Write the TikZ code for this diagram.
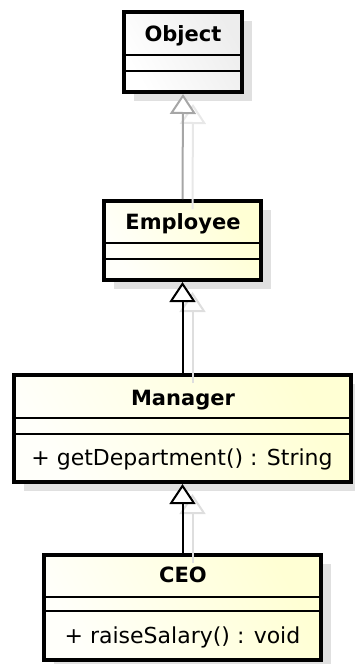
\documentclass[tikz,border=0pt]{standalone}
\usepackage{fontspec}
\setmainfont{DejaVu Sans}
\usetikzlibrary{arrows.meta,shadows}

\begin{document}
\begin{tikzpicture}[x=1pt,y=-1pt,
  classbox/.style={draw=black, line width=4pt, rectangle, inner sep=0pt,
    drop shadow={shadow xshift=10pt, shadow yshift=-9pt, fill=black!12, opacity=1}},
  yellowbox/.style={classbox, left color=yellow!2, right color=yellow!17, shading angle=120},
  graybox/.style={classbox, left color=white, right color=black!7, shading angle=120},
  divider/.style={line width=1.5pt},
  title/.style={font=\bfseries\fontsize{21}{21}\selectfont, anchor=base, inner sep=0pt},
  member/.style={font=\fontsize{22}{22}\selectfont, anchor=base, inner sep=0pt},
  gen/.style={line width=2pt, -{Triangle[length=20pt, width=26pt, fill=white]}},
  genshadow/.style={line width=2pt, -{Triangle[open, length=20pt, width=26pt]},
    transform canvas={xshift=10pt, yshift=-10pt}},
]
\useasboundingbox (0,0) rectangle (355,664);

% class boxes
\node[graybox,   minimum width=118pt, minimum height=80pt]  (obj) at (183,52)    {};
\node[yellowbox, minimum width=157pt, minimum height=79pt]  (emp) at (182.5,240.5) {};
\node[yellowbox, minimum width=337pt, minimum height=107pt] (mgr) at (182.5,428.5) {};
\node[yellowbox, minimum width=277pt, minimum height=105pt] (ceo) at (182.5,607.5) {};

% compartment separators
\draw[divider] (obj.west |- 0,55)  -- (obj.east |- 0,55);
\draw[divider] (obj.west |- 0,71)  -- (obj.east |- 0,71);
\draw[divider] (emp.west |- 0,243) -- (emp.east |- 0,243);
\draw[divider] (emp.west |- 0,259) -- (emp.east |- 0,259);
\draw[divider] (mgr.west |- 0,418) -- (mgr.east |- 0,418);
\draw[divider] (mgr.west |- 0,434) -- (mgr.east |- 0,434);
\draw[divider] (ceo.west |- 0,597) -- (ceo.east |- 0,597);
\draw[divider] (ceo.west |- 0,611) -- (ceo.east |- 0,611);

% class names and operations
\node[title]  (objT) at (183,41.5)  {Object};
\node[title]  (empT) at (183,229)   {Employee};
\node[title]  (mgrT) at (183,405)   {Manager};
\node[title]  (ceoT) at (183,582)   {CEO};
\node[member] (mgrO) at (182,465)   {+ getDepartment() : String};
\node[member] (ceoO) at (182.5,643) {+ raiseSalary() : void};

% generalization shadows
\draw[genshadow, draw=black!9]  (emp.north) -- (obj.south);
\draw[genshadow, draw=black!13] (mgr.north) -- (emp.south);
\draw[genshadow, draw=black!13] (ceo.north) -- (mgr.south);

% generalizations
\draw[gen, draw=black!35] (emp.north) -- (obj.south);
\draw[gen, draw=black]    (mgr.north) -- (emp.south);
\draw[gen, draw=black]    (ceo.north) -- (mgr.south);
\end{tikzpicture}
\end{document}
